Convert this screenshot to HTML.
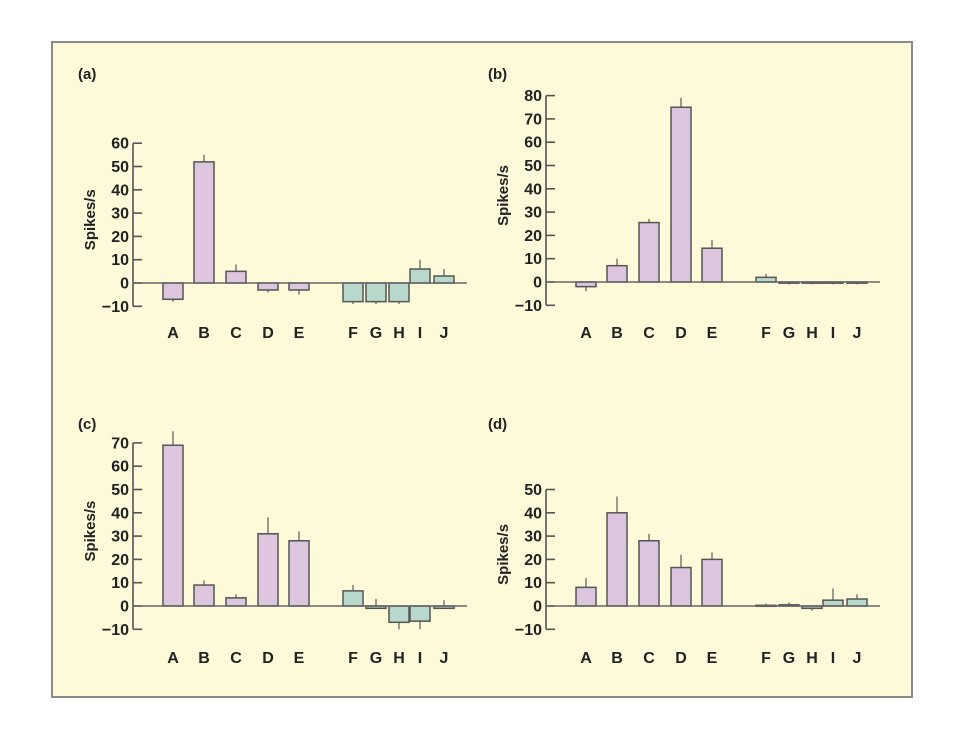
<!DOCTYPE html>
<html><head><meta charset="utf-8"><style>
html,body{margin:0;padding:0;background:#fff;}
svg{display:block;font-family:"Liberation Sans",sans-serif;}
text{font-weight:bold;}
</style></head><body>
<svg id="chart" width="956" height="735" viewBox="0 0 956 735">
<rect x="52" y="42" width="860" height="655" fill="#fdf9d9" stroke="#8a8a8a" stroke-width="2"/>
</svg>
<script>
const categories = ["A","B","C","D","E","F","G","H","I","J"];
const groupOf = ["p","p","p","p","p","t","t","t","t","t"];
const valuesA = [-7,52,5,-3,-3,-8,-8,-8,6,3];
const errEndA = [-8,55,8,-4,-5,-9,-9,-9,10,6];
const valuesB = [-2,7,25.5,75,14.5,2,-0.5,-0.5,-0.5,-0.5];
const errEndB = [-4,10,27,79,18,3.5,-1,-1,-1,-1];
const valuesC = [69,9,3.5,31,28,6.5,-1,-7,-6.5,-1];
const errEndC = [75,11,5,38,32,9,3,-10,-10,2.5];
const valuesD = [8,40,28,16.5,20,0.3,0.5,-1,2.5,3];
const errEndD = [12,47,31,22,23,1,1.5,-2,7.5,5];
const ticksA = [-10,0,10,20,30,40,50,60];
const ticksB = [-10,0,10,20,30,40,50,60,70,80];
const ticksC = [-10,0,10,20,30,40,50,60,70];
const ticksD = [-10,0,10,20,30,40,50];

const NS = "http://www.w3.org/2000/svg";
const svg = document.getElementById("chart");
function mk(tag, attrs, parent){
  const e = document.createElementNS(NS, tag);
  for (const k in attrs) e.setAttribute(k, attrs[k]);
  (parent||svg).appendChild(e);
  return e;
}
const offsetsL = [0,31,63,95,126,180,203,226,247,271];

function panel(id, label, ax, zeroY, vals, errs, ticks, labelY, lblPos){
  const g = mk("g", {});
  
  
  const unit = 2.33;
  const y = v => zeroY - v * unit;
  const x = i => ax + 40 + offsetsL[i];
  const pl = mk("text", {x: lblPos[0], y: lblPos[1], "font-size": 15, fill: "#222"}, g);
  pl.textContent = "(" + id + ")";
  
  
  const tmin = ticks[0], tmax = ticks[ticks.length-1];
  const axis = mk("line", {x1: ax, x2: ax, y1: y(tmax), y2: y(tmin), stroke: "#555", "stroke-width": 1.6}, g);
  
  
  ticks.forEach(t => {
    const tl = mk("line", {x1: ax, x2: ax + 9, y1: y(t), y2: y(t), stroke: "#555", "stroke-width": 1.6}, g);
    
    
    const tt = mk("text", {x: ax - 4, y: y(t) + 5.5, "font-size": 16, "text-anchor": "end", fill: "#222"}, g);
    tt.textContent = t < 0 ? "\u2212" + Math.abs(t) : String(t);
    
    
  });
  const yt = mk("text", {x: 0, y: 0, "font-size": 15, "text-anchor": "middle", fill: "#222",
    transform: "translate(" + (ax - 38) + "," + ((y(tmax) + y(tmin)) / 2 - 5) + ") rotate(-90)"}, g);
  yt.textContent = "Spikes/s";
  
  
  vals.forEach((v, i) => {
    const cx = x(i);
    const e = mk("line", {x1: cx, x2: cx, y1: y(v), y2: y(errs[i]), stroke: "#666", "stroke-width": 1.3}, g);
    
    
    const top = Math.min(y(v), y(0)), h = Math.max(Math.abs(y(v) - y(0)), 1);
    const r = mk("rect", {x: cx - 10, y: top, width: 20, height: h,
      fill: groupOf[i] === "p" ? "#dbc6de" : "#b7d8cb", stroke: "#555", "stroke-width": 1.5}, g);
    
    
    const lt = mk("text", {x: cx, y: labelY, "font-size": 16, "text-anchor": "middle", fill: "#222"}, g);
    lt.textContent = categories[i];
    
    
  });
  const base = mk("line", {x1: ax, x2: ax + 334, y1: y(0), y2: y(0), stroke: "#666", "stroke-width": 1.6}, g);
  
  
}
panel("a", "(a)", 133, 283, valuesA, errEndA, ticksA, 338, [78, 79]);
panel("b", "(b)", 546, 282, valuesB, errEndB, ticksB, 338, [488, 79]);
panel("c", "(c)", 133, 606, valuesC, errEndC, ticksC, 663, [78, 429]);
panel("d", "(d)", 546, 606, valuesD, errEndD, ticksD, 663, [488, 429]);
</script>
</body></html>
